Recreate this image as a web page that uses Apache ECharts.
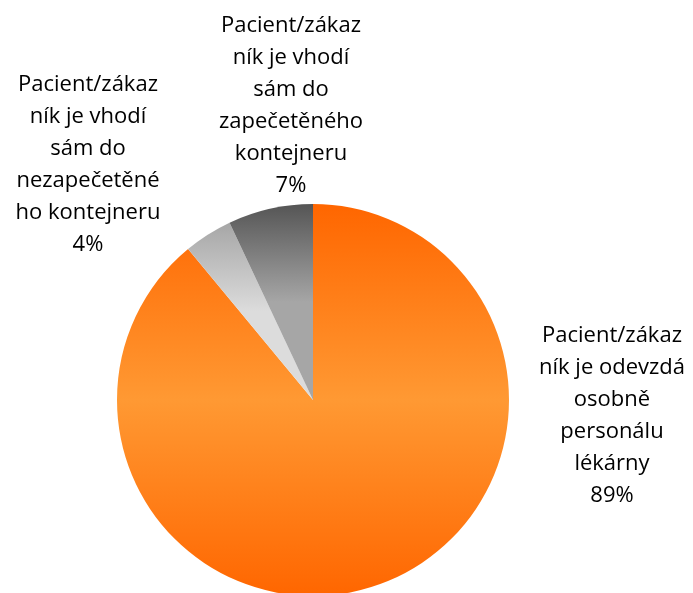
<!DOCTYPE html>
<html><head><meta charset="utf-8">
<script src="https://cdn.jsdelivr.net/npm/echarts@6/dist/echarts.min.js"></script>
<style>html,body{margin:0;padding:0;background:#fff}#c{width:693px;height:593px}</style>
</head><body><div id="c"></div>
<script>
const categories = [
  "Pacient/zákaz\nník je odevzdá\nosobně\npersonálu\nlékárny",
  "Pacient/zákaz\nník je vhodí\nsám do\nnezapečetěné\nho kontejneru",
  "Pacient/zákaz\nník je vhodí\nsám do\nzapečetěného\nkontejneru"
];
const values = [89, 4, 7];
const gradients = [
  ['#FF6600', '#FF9933', '#FF6600'],
  ['#A6A6A6', '#DCDCDC', '#DCDCDC'],
  ['#555555', '#A6A6A6', '#A6A6A6']
];
const labelPos = [[612, 320], [88, 69], [291, 10]];

function grad(c) {
  return new echarts.graphic.LinearGradient(0, 0, 0, 1, [
    {offset: 0, color: c[0]}, {offset: 0.5, color: c[1]}, {offset: 1, color: c[2]}
  ]);
}

const chart = echarts.init(document.getElementById('c'));
chart.setOption({
  animation: false,
  series: [{
    type: 'pie',
    center: [313, 400],
    radius: 196,
    startAngle: 90,
    clockwise: true,
    data: categories.map((n, i) => ({name: n, value: values[i], itemStyle: {color: grad(gradients[i])}})),
    label: {
      show: true,
      position: 'outside',
      formatter: '{b}\n{c}%',
      fontFamily: 'Open Sans',
      fontSize: 22,
      lineHeight: 32,
      color: '#000',
      align: 'center',
      overflow: 'none',
      width: 300
    },
    labelLine: {show: false},
    labelLayout: function (p) {
      const pos = labelPos[p.dataIndex];
      return {x: pos[0], y: pos[1], align: 'center', verticalAlign: 'top'};
    },
    emphasis: {disabled: true}
  }]
});
</script></body></html>
